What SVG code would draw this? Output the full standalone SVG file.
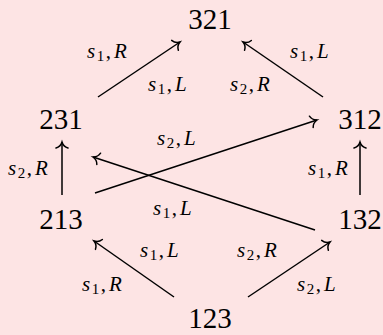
<svg xmlns="http://www.w3.org/2000/svg" width="383" height="335" viewBox="0 0 383 335">
<style>
text{font-family:'Liberation Serif','Times New Roman',serif}
.n{font-size:29px;fill:#000;text-anchor:middle}
.l{font-size:21px;fill:#000}
.i{font-style:italic}
.sub{font-size:15px}
.e{stroke:#000;stroke-width:1.5;fill:none;marker-end:url(#to)}
</style>
<defs>
<marker id="to" markerUnits="userSpaceOnUse" markerWidth="20" markerHeight="20" viewBox="-10 -10 20 20" refX="0" refY="0" orient="auto">
<path d="M-6,-6 C-5,-2.5 -2,-0.6 0,0 C-2,0.6 -5,2.5 -6,6" fill="none" stroke="#000" stroke-width="1.5" stroke-linecap="round"/>
</marker>
</defs>
<rect width="383" height="335" fill="#fde4e4"/>
<g id="n321"><text class="n" x="210" y="29" font-family="Liberation Serif">321</text></g>
<g id="n231"><text class="n" x="61" y="129" font-family="Liberation Serif">231</text></g>
<g id="n312"><text class="n" x="360" y="129" font-family="Liberation Serif">312</text></g>
<g id="n213"><text class="n" x="61" y="229" font-family="Liberation Serif">213</text></g>
<g id="n132"><text class="n" x="360" y="229" font-family="Liberation Serif">132</text></g>
<g id="n123"><text class="n" x="210" y="328" font-family="Liberation Serif">123</text></g>
<g id="connectors">
<line class="e" x1="98" y1="97" x2="180" y2="42"/>
<line class="e" x1="323" y1="97" x2="243" y2="42"/>
<line class="e" x1="62" y1="195" x2="62" y2="142"/>
<line class="e" x1="360" y1="195" x2="360" y2="142"/>
<line class="e" x1="95" y1="193" x2="317" y2="120"/>
<line class="e" x1="315" y1="230" x2="93" y2="157"/>
<line class="e" x1="174" y1="297" x2="94" y2="241"/>
<line class="e" x1="248" y1="297" x2="330" y2="242"/>
</g>
<g id="labels">
<text class="l" x="87" y="58"><tspan class="i">s</tspan><tspan class="sub" dx="1.5" dy="3">1</tspan><tspan dx="1.5" dy="-3">,</tspan><tspan class="i" dx="3">R</tspan></text>
<text class="l" x="148" y="91"><tspan class="i">s</tspan><tspan class="sub" dx="1.5" dy="3">1</tspan><tspan dx="1.5" dy="-3">,</tspan><tspan class="i" dx="3">L</tspan></text>
<text class="l" x="230" y="91"><tspan class="i">s</tspan><tspan class="sub" dx="1.5" dy="3">2</tspan><tspan dx="1.5" dy="-3">,</tspan><tspan class="i" dx="3">R</tspan></text>
<text class="l" x="290" y="58"><tspan class="i">s</tspan><tspan class="sub" dx="1.5" dy="3">1</tspan><tspan dx="1.5" dy="-3">,</tspan><tspan class="i" dx="3">L</tspan></text>
<text class="l" x="157" y="145"><tspan class="i">s</tspan><tspan class="sub" dx="1.5" dy="3">2</tspan><tspan dx="1.5" dy="-3">,</tspan><tspan class="i" dx="3">L</tspan></text>
<text class="l" x="8" y="175"><tspan class="i">s</tspan><tspan class="sub" dx="1.5" dy="3">2</tspan><tspan dx="1.5" dy="-3">,</tspan><tspan class="i" dx="3">R</tspan></text>
<text class="l" x="308" y="175"><tspan class="i">s</tspan><tspan class="sub" dx="1.5" dy="3">1</tspan><tspan dx="1.5" dy="-3">,</tspan><tspan class="i" dx="3">R</tspan></text>
<text class="l" x="153" y="215"><tspan class="i">s</tspan><tspan class="sub" dx="1.5" dy="3">1</tspan><tspan dx="1.5" dy="-3">,</tspan><tspan class="i" dx="3">L</tspan></text>
<text class="l" x="140" y="257"><tspan class="i">s</tspan><tspan class="sub" dx="1.5" dy="3">1</tspan><tspan dx="1.5" dy="-3">,</tspan><tspan class="i" dx="3">L</tspan></text>
<text class="l" x="237" y="257"><tspan class="i">s</tspan><tspan class="sub" dx="1.5" dy="3">2</tspan><tspan dx="1.5" dy="-3">,</tspan><tspan class="i" dx="3">R</tspan></text>
<text class="l" x="82" y="291"><tspan class="i">s</tspan><tspan class="sub" dx="1.5" dy="3">1</tspan><tspan dx="1.5" dy="-3">,</tspan><tspan class="i" dx="3">R</tspan></text>
<text class="l" x="297" y="291"><tspan class="i">s</tspan><tspan class="sub" dx="1.5" dy="3">2</tspan><tspan dx="1.5" dy="-3">,</tspan><tspan class="i" dx="3">L</tspan></text>
</g>
</svg>
